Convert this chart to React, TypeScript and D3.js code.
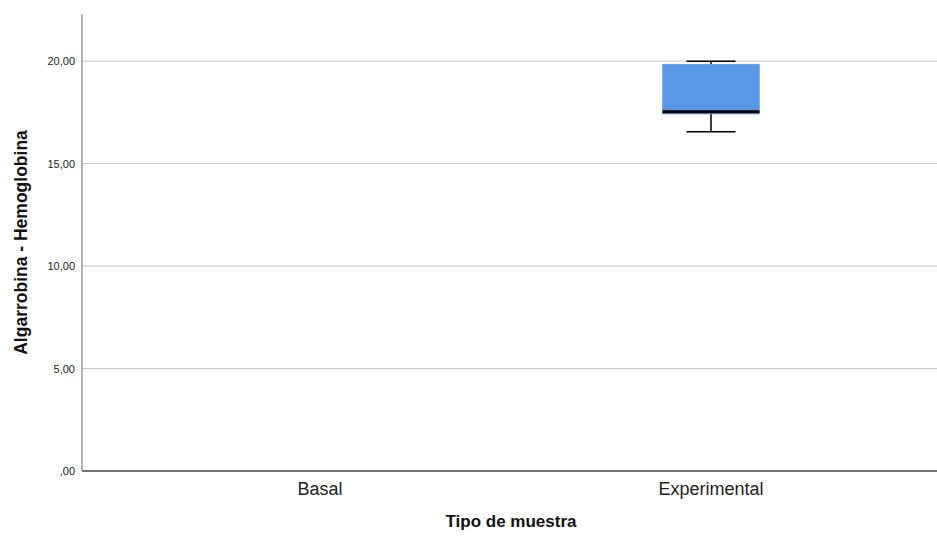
import React from "react";
import * as d3 from "d3";

const categories = ["Basal", "Experimental"];
// box stats per category (null = no data)
const whiskerLow = [null, 16.55];
const q1 = [null, 17.42];
const median = [null, 17.53];
const q3 = [null, 19.85];
const whiskerHigh = [null, 20.0];
const yTicks = [0, 5, 10, 15, 20];
const yTickLabels = [",00", "5,00", "10,00", "15,00", "20,00"];

export default function App() {
  const W = 937, H = 536;
  const left = 82, right = 937, top = 14, bottom = 471;
  const y = d3.scaleLinear().domain([0, 22.3]).range([bottom, top]);
  const x = d3.scalePoint<string>().domain(categories).range([320, 711]);
  const boxW = 97, capW = 49;
  const font = "'Liberation Sans', Arial, sans-serif";
  return (
    <svg width={W} height={H} style={{ position: "absolute", left: 0, top: 0 }}>
      <rect width={W} height={H} fill="#fff" />
      {yTicks.map((t, i) => (
        <g key={t}>
          {t > 0 && (
            <line x1={left} x2={right} y1={y(t)} y2={y(t)} stroke="#c4c4c4" strokeWidth={1} />
          )}
          <text x={75} y={y(t) + 4} textAnchor="end" fontSize={11} fontFamily={font} fill="#222">
            {yTickLabels[i]}
          </text>
        </g>
      ))}
      <line x1={left} x2={left} y1={top} y2={bottom} stroke="#888" strokeWidth={1.3} />
      <line x1={left} x2={right} y1={bottom} y2={bottom} stroke="#444" strokeWidth={1.3} />
      {categories.map((c, i) => {
        const cx = x(c)!;
        const el = [
          <text key="l" x={cx} y={495} textAnchor="middle" fontSize={18} fontFamily={font} fill="#222">
            {c}
          </text>,
        ];
        if (median[i] != null) {
          el.push(
            <g key="b">
              <line x1={cx} x2={cx} y1={y(whiskerHigh[i]!)} y2={y(q3[i]!)} stroke="#000" strokeWidth={1.5} />
              <line x1={cx} x2={cx} y1={y(q1[i]!)} y2={y(whiskerLow[i]!)} stroke="#000" strokeWidth={1.5} />
              <line x1={cx - capW / 2} x2={cx + capW / 2} y1={y(whiskerHigh[i]!)} y2={y(whiskerHigh[i]!)} stroke="#000" strokeWidth={1.5} />
              <line x1={cx - capW / 2} x2={cx + capW / 2} y1={y(whiskerLow[i]!)} y2={y(whiskerLow[i]!)} stroke="#000" strokeWidth={1.5} />
              <rect x={cx - boxW / 2} y={y(q3[i]!)} width={boxW} height={y(q1[i]!) - y(q3[i]!)} fill="#5a97e5" stroke="#5a97e5" strokeWidth={0.5} />
              <line x1={cx - boxW / 2} x2={cx + boxW / 2} y1={y(median[i]!)} y2={y(median[i]!)} stroke="#000" strokeWidth={3} />
            </g>
          );
        }
        return <g key={c}>{el}</g>;
      })}
      <text x={511} y={527} textAnchor="middle" fontSize={17} fontWeight="bold" fontFamily={font} fill="#111">
        Tipo de muestra
      </text>
      <text
        transform={`translate(27, ${(top + bottom) / 2}) rotate(-90)`}
        textAnchor="middle"
        fontSize={17.5}
        fontWeight="bold"
        fontFamily={font}
        fill="#111"
      >
        Algarrobina - Hemoglobina
      </text>
    </svg>
  );
}
